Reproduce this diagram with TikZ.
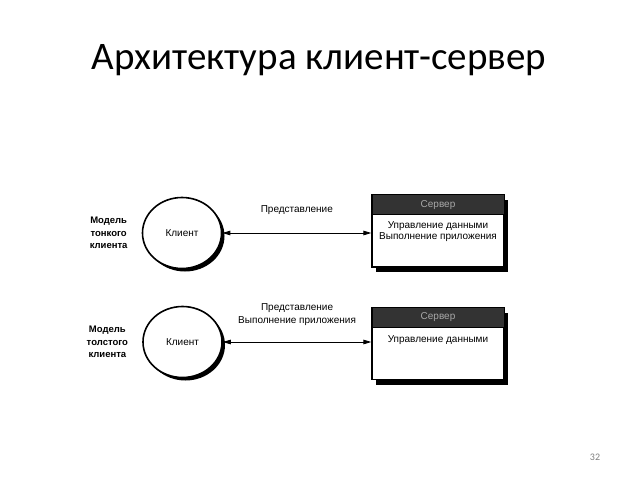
\documentclass[tikz,border=0pt]{standalone}
\usepackage{fontspec}
\setmainfont{Carlito}
\newfontfamily\diagfont{Liberation Sans}
\usetikzlibrary{positioning,arrows.meta,shapes.geometric,shadows}
\definecolor{pagegray}{HTML}{7F7F7F}
\definecolor{hdrdark}{HTML}{333333}
\definecolor{hdrtext}{HTML}{A8A8A8}

\begin{document}
\begin{tikzpicture}[x=1pt,y=-1pt,
  client/.style={ellipse,draw,line width=1.6pt,fill=white,minimum width=79pt,minimum height=71pt,inner sep=0pt,
    font=\diagfont\fontsize{10}{12}\selectfont,
    drop shadow={shadow xshift=3pt,shadow yshift=-3pt,opacity=1,fill=black}},
  server/.style={draw,line width=1.2pt,fill=white,minimum width=132pt,minimum height=72pt,inner sep=0pt,
    drop shadow={shadow xshift=4pt,shadow yshift=-5pt,opacity=1,fill=black}},
  hdr/.style={draw,line width=1pt,fill=hdrdark,text=hdrtext,minimum width=132pt,minimum height=20pt,inner sep=0pt,
    anchor=north,font=\diagfont\fontsize{10}{12}\selectfont},
  body/.style={align=center,inner sep=1pt,font=\diagfont\fontsize{10}{10}\selectfont},
  model/.style={align=center,inner sep=3pt,font=\diagfont\bfseries\fontsize{9.5}{10}\selectfont},
  lbl/.style={align=center,inner sep=2pt,font=\diagfont\fontsize{10}{10}\selectfont},
  arr/.style={{Triangle[length=8pt,width=4.5pt]}-{Triangle[length=8pt,width=4.5pt]},line width=0.9pt}]
  \useasboundingbox (0,0) rectangle (638,479);
  \node[anchor=base,font=\fontsize{39}{46}\selectfont] (title) at (319,69) {Архитектура клиент-сервер};

  % thin client
  \node[client] (c1) at (182,233) {Клиент};
  \node[model,left=11pt of c1] (m1) {Модель\\[2.5pt]тонкого\\[2.5pt]клиента};
  \node[server] (s1) at (438,231) {};
  \node[hdr] (s1h) at (s1.north) {Сервер};
  \node[body,below=5pt of s1h] (s1t) {Управление данными\\[1pt]Выполнение приложения};
  \draw[arr] (c1.east) -- node[lbl,above=16pt] (p1) {Представление} (c1.east -| s1.west);

  % thick client
  \node[client] (c2) at (182.5,342) {Клиент};
  \node[model,left=11pt of c2] (m2) {Модель\\[2.5pt]толстого\\[2.5pt]клиента};
  \node[server] (s2) at (438,343.5) {};
  \node[hdr] (s2h) at (s2.north) {Сервер};
  \node[body,below=7pt of s2h] (s2t) {Управление данными};
  \draw[arr] (c2.east) -- node[lbl,above=14pt] (p2) {Представление\\[3pt]Выполнение приложения} (c2.east -| s2.west);

  \node[text=pagegray,font=\fontsize{10}{12}\selectfont] (num) at (595,457) {32};
\end{tikzpicture}
\end{document}
